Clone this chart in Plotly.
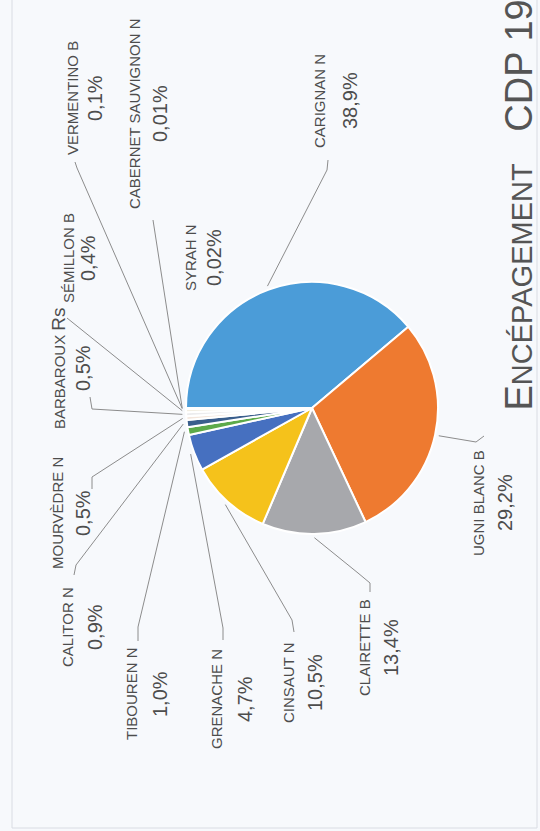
import math
import plotly.graph_objects as go

# ---------------- data ----------------
grapes = ["CARIGNAN N", "UGNI BLANC B", "CLAIRETTE B", "CINSAUT N", "GRENACHE N",
          "TIBOUREN N", "CALITOR N", "MOURVÈDRE N", "BARBAROUX Rs", "SÉMILLON B",
          "VERMENTINO B", "CABERNET SAUVIGNON N", "SYRAH N"]
shares = [38.9, 29.2, 13.4, 10.5, 4.7, 1.0, 0.9, 0.5, 0.5, 0.4, 0.1, 0.01, 0.02]
title_main = "ENCÉPAGEMENT"
title_tail = "CDP 19"

# ---------------- styling / layout ----------------
W, H = 540, 831
colors = ["#4B9CD8", "#EE7A30", "#A7A8AC", "#F5C21B", "#4670C0", "#5DAA4A",
          "#3A5E8C", "#F3E6DD", "#ECECEE", "#F2EEE2", "#E9EDF5", "#EAF0E6", "#EAF2FA"]
CX, CY, R = 312, 408, 126          # pie centre / radius in page pixels
BG = "#F7F9FC"
TXT = "#4d4d4d"
FONT = "Liberation Sans"

# label placement (page pixels): name column x, percent column x, centre y, leader hook points
label_pos = {
    "CARIGNAN N": (320, 350, 101, [(327, 170), (328, 160)]),
    "UGNI BLANC B": (478, 505, 503, [(476, 442), (484, 436)]),
    "CLAIRETTE B": (364, 391, 648, [(358, 573), (370, 583), (370, 592)]),
    "CINSAUT N": (288, 315, 683, [(292, 620), (294, 632)]),
    "GRENACHE N": (216, 245, 699, [(223, 628), (223, 640)]),
    "TIBOUREN N": (131, 160, 694, [(138, 627), (138, 641)]),
    "CALITOR N": (67, 95, 627, [(76, 565), (74, 575)]),
    "MOURVÈDRE N": (57, 83, 513, [(92, 477), (92, 489)]),
    "BARBAROUX Rs": (58, 83, 368, [(92, 409), (90, 397)]),
    "SÉMILLON B": (68, 88, 258, [(67, 318)]),
    "VERMENTINO B": (72, 95, 98, [(77, 168), (75, 162)]),
    "CABERNET SAUVIGNON N": (135, 160, 114, [(153, 220)]),
    "SYRAH N": (190, 214, 258, []),
}


def px(x):
    return x / W


def py(y):
    return 1 - y / H


def fmt(v):
    s = f"{v:.1f}" if v >= 0.1 else f"{v:.2f}"
    return s.replace(".", ",") + "%"


fig = go.Figure(go.Pie(
    labels=grapes, values=shares, sort=False, direction="clockwise", rotation=-90,
    marker=dict(colors=colors, line=dict(color="white", width=2)),
    textinfo="none", hoverinfo="label+percent", showlegend=False,
    domain=dict(x=[px(CX - R), px(CX + R)], y=[py(CY + R), py(CY - R)]),
))

annotations = []
shapes = []
total = sum(shares)
cum = 0.0
for g, v in zip(grapes, shares):
    mid = math.radians(180 - 360 * (cum + v / 2) / total)
    cum += v
    nx, pcx, yc, hooks = label_pos[g]
    name_html = g
    if g == "BARBAROUX Rs":
        name_html = "BARBAROUX <span style='font-size:19px'>Rs</span>"
    annotations.append(dict(text=name_html, x=px(nx), y=py(yc), xref="paper", yref="paper",
                            textangle=-90, showarrow=False, xanchor="center", yanchor="middle",
                            font=dict(family=FONT, size=15, color=TXT)))
    annotations.append(dict(text=fmt(v), x=px(pcx), y=py(yc), xref="paper", yref="paper",
                            textangle=-90, showarrow=False, xanchor="center", yanchor="middle",
                            font=dict(family=FONT, size=20, color=TXT)))
    if hooks:
        sx = CX + R * 1.03 * math.cos(mid)
        sy = CY - R * 1.03 * math.sin(mid)
        path = f"M {px(sx)} {py(sy)} " + " ".join(f"L {px(a)} {py(b)}" for a, b in hooks)
        shapes.append(dict(type="path", path=path, xref="paper", yref="paper",
                           line=dict(color="#8c8c8c", width=1)))

# title (rotated, small caps, running off the top edge like the scan)
title_html = (title_main[0] + f"<span style='font-size:29px'>{title_main[1:]}</span>"
              + "&nbsp;&nbsp;&nbsp;" + title_tail)
annotations.append(dict(
    text=title_html, x=px(518), y=py(413), xref="paper", yref="paper", textangle=-90,
    showarrow=False, xanchor="center", yanchor="bottom",
    font=dict(family=FONT, size=38, color="#555555")))

# page edge of the scan
shapes.append(dict(type="rect", xref="paper", yref="paper", x0=px(12), x1=px(537),
                   y0=py(828), y1=1.05, line=dict(color="#d9dce3", width=1), layer="below"))

fig.update_layout(width=W, height=H, margin=dict(l=0, r=0, t=0, b=0),
                  paper_bgcolor=BG, plot_bgcolor=BG,
                  annotations=annotations, shapes=shapes)

fig.write_html("out.html", config={"displayModeBar": False},
               post_script="document.body.style.margin='0';document.body.style.overflow='hidden';")
